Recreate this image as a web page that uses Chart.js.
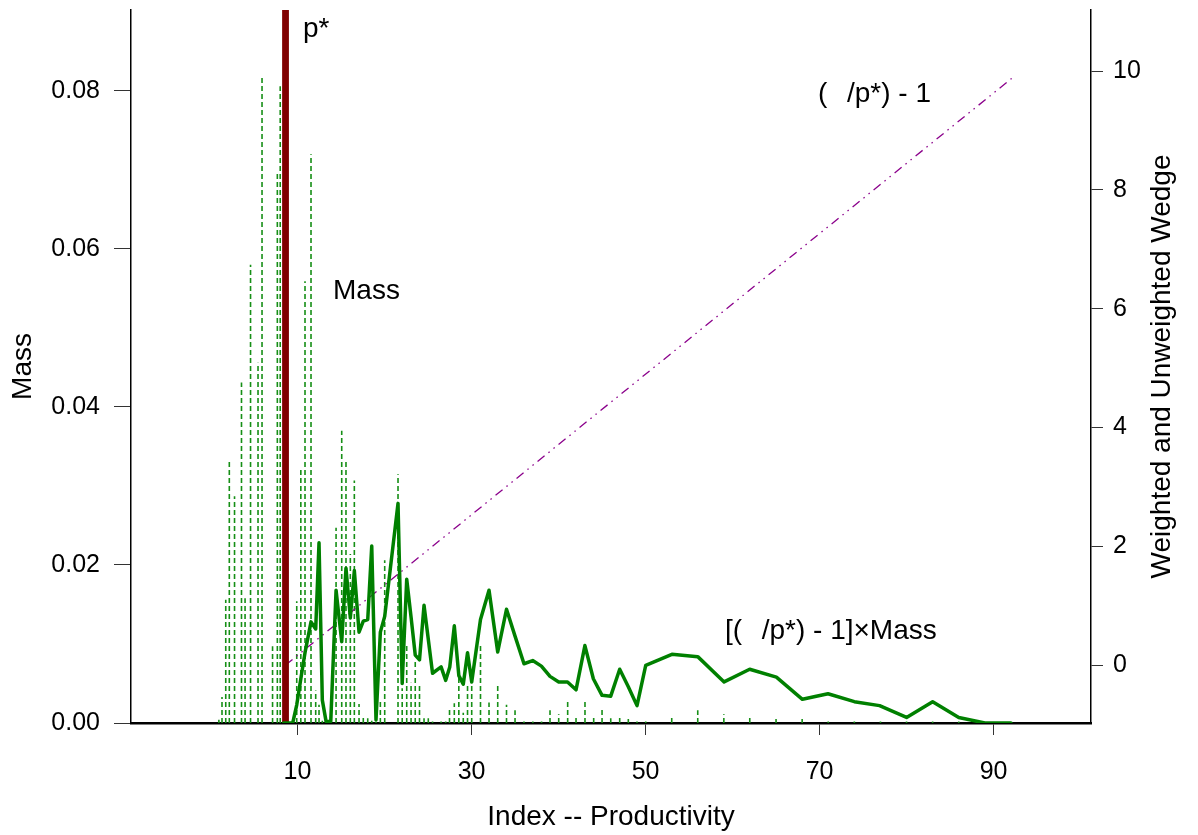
<!DOCTYPE html>
<html><head><meta charset="utf-8">
<script src="https://cdn.jsdelivr.net/npm/chart.js@4/dist/chart.umd.min.js"></script>
<style>html,body{margin:0;padding:0;background:#fff;}canvas{display:block;}</style>
</head><body>
<canvas id="c" width="1198" height="835"></canvas>
<script>
// ---- data ----
const massX = [0.96,1.32,1.75,2.16,2.76,3.56,3.97,4.60,5.46,5.92,7.13,7.68,8.01,8.56,9.91,10.38,10.86,11.55,12.09,12.47,12.85,13.28,13.82,14.43,15.08,15.57,16.07,16.53,17.07,17.56,18.07,18.53,19.02,19.52,20.02,21.55,22.03,22.55,23.05,23.53,24.02,24.54,25.03,25.52,26.5,27.03,27.47,28.02,28.54,29.05,29.54,30.02,31.03,32.01,33.01,34.02,35.0,36.03,37.05,38.05,39.02,40.02,41.05,42.01,43.04,44.04,45.0,46.0,47.03,48.02,49.02,50.02,53.01,56.0,59.0,61.98,65.0,68.0,71.0,74.0,77.0,80.0,83.0,86.0,89.0];
const massY = [0.0004,0.0033,0.0156,0.0332,0.0287,0.0431,0.0158,0.0580,0.0456,0.0820,0.0097,0.0696,0.0806,0.0103,0.0154,0.0322,0.0559,0.0720,0.0041,0.0023,0.0003,0.0002,0.0002,0.0247,0.0370,0.0332,0.0214,0.0307,0.0024,0.0009,0.0006,0.0003,0.0002,0.0027,0.0206,0.0315,0.0044,0.0100,0.0051,0.0080,0.0048,0.0006,0.0006,0.0002,0.0002,0.0002,0.0018,0.0025,0.0066,0.0013,0.0050,0.0052,0.0101,0.0026,0.0049,0.0023,0.0016,0.0002,0.0002,0.0002,0.0016,0.0011,0.0030,0.0007,0.0030,0.0008,0.0018,0.0006,0.0008,0.0005,0.0002,0.0002,0.0008,0.0016,0.0011,0.0007,0.0005,0.0005,0.0002,0.0002,0.0002,0.0002,0.0002,0.0002,0.0001];

const wedgeX = [8.4,8.56,9.45,9.91,10.38,10.86,11.55,12.09,12.47,12.85,13.28,13.82,14.43,15.08,15.57,16.07,16.53,17.07,17.56,18.07,18.53,19.02,19.52,20.02,21.55,22.03,22.55,23.05,23.53,24.02,24.54,25.52,26.5,27.03,27.5,28.02,28.54,29.05,29.54,30.02,31.03,32.01,33.01,34.02,35.0,36.03,37.03,38.03,39.02,40.02,41.03,42.01,43.03,44.0,45.0,46.0,47.03,48.02,49.02,50.02,53.03,56.0,59.03,61.97,65.04,68.03,70.97,74.0,76.9,80.0,83.0,86.0,89.0,92.0];
const wedgeY = [0,0,0,0.0023,0.0056,0.0089,0.0128,0.0119,0.0228,0.0029,0.0002,0.0002,0.0168,0.0103,0.0196,0.0133,0.0193,0.0115,0.0129,0.0131,0.0224,0.0004,0.0115,0.0135,0.0278,0.0050,0.0182,0.0134,0.0086,0.0080,0.0149,0.0063,0.0071,0.0054,0.0071,0.0123,0.0060,0.0049,0.0089,0.0052,0.0131,0.0168,0.0090,0.0144,0.0110,0.0075,0.0079,0.0072,0.0059,0.0052,0.0052,0.0042,0.0098,0.0056,0.0035,0.0034,0.0068,0.0046,0.0022,0.0073,0.0087,0.0084,0.0052,0.0068,0.0058,0.0030,0.0037,0.0027,0.0022,0.0007,0.0027,0.0007,0,0];

const ratioX = [8.62, 92.1];
const ratioY = [0.0, 9.88];
const pStar = 8.62;

const xTicks = [10,30,50,70,90];
const leftTicks = [0,0.02,0.04,0.06,0.08];
const rightTicks = [0,2,4,6,8,10];

// ---- build library data ----
const spikes = [];
massX.forEach((x,i)=>{ spikes.push({x:x,y:0},{x:x,y:massY[i]},{x:x,y:null}); });
const wedge = wedgeX.map((x,i)=>({x:x,y:wedgeY[i]}));
const ratio = ratioX.map((x,i)=>({x:x,y:ratioY[i]}));

const FONT = '"Liberation Sans", Arial, Helvetica, sans-serif';
const LEFT_MAX = 0.09025;

const annot = {
  id:'annot',
  afterDraw(chart){
    const ctx = chart.ctx;
    ctx.save();
    ctx.fillStyle = '#000';
    ctx.font = '28px ' + FONT;
    ctx.textBaseline = 'alphabetic';
    ctx.textAlign = 'left';
    ctx.fillText('p*', 303, 37);
    ctx.fillText('Mass', 333, 299);
    ctx.fillText('(\u2002\u2009/p*) - 1', 818, 102);
    ctx.fillText('[(\u2002\u2009/p*) - 1]\u00D7Mass', 725, 639);
    ctx.translate(1162, 366.5);
    ctx.rotate(-Math.PI/2);
    ctx.textAlign = 'center';
    ctx.textBaseline = 'middle';
    ctx.fillText('Weighted and Unweighted Wedge', 0, 0);
    ctx.restore();
  }
};

function noPadV(s){ s.paddingTop = 0; s.paddingBottom = 0; }
function noPadH(s){ s.paddingLeft = 0; s.paddingRight = 0; }

new Chart(document.getElementById('c'), {
  type: 'scatter',
  data: { datasets: [
    { label:'wedge', data: wedge, showLine:true, borderColor:'#008000', borderWidth:3.5, pointRadius:0, yAxisID:'y', order:0, borderJoinStyle:'round', borderCapStyle:'round' },
    { label:'pstar', data:[{x:pStar,y:0},{x:pStar,y:LEFT_MAX}], showLine:true, borderColor:'#800000', borderWidth:6.8, pointRadius:0, yAxisID:'y', order:1 },
    { label:'ratio', data: ratio, showLine:true, borderColor:'#8B008B', borderWidth:1.3, borderDash:[9,5,1.5,5,1.5,5], pointRadius:0, yAxisID:'y2', order:2 },
    { label:'mass', data: spikes, showLine:true, spanGaps:false, borderColor:'#168f16', borderWidth:1.6, borderDash:[5,3], pointRadius:0, yAxisID:'y', order:3 }
  ]},
  options: {
    responsive:false, animation:false, devicePixelRatio:1,
    layout:{ padding:{left:0,right:0,top:10,bottom:0} },
    plugins:{ legend:{display:false}, tooltip:{enabled:false} },
    scales:{
      x:{ type:'linear', position:'bottom', min:-9.14, max:101.2,
          afterBuildTicks(s){ s.ticks = xTicks.map(v=>({value:v})); },
          afterFit(s){ s.height = 112; noPadH(s); },
          grid:{ drawOnChartArea:false, drawTicks:true, tickLength:12, tickColor:'#333', tickWidth:1 },
          border:{ display:true, color:'#000', width:2.5 },
          ticks:{ color:'#000', font:{family:FONT,size:25}, padding:22, maxRotation:0, callback:v=>String(v) },
          title:{ display:true, text:'Index -- Productivity', color:'#000', font:{family:FONT,size:28}, padding:{top:0,bottom:1} } },
      y:{ type:'linear', position:'left', min:0, max:LEFT_MAX,
          afterBuildTicks(s){ s.ticks = leftTicks.map(v=>({value:v})); },
          afterFit(s){ s.width = 131; noPadV(s); },
          grid:{ drawOnChartArea:false, drawTicks:true, tickLength:17, tickColor:'#333', tickWidth:1 },
          border:{ display:true, color:'#000', width:1.5 },
          ticks:{ color:'#000', font:{family:FONT,size:25}, padding:14, callback:v=>v.toFixed(2) },
          title:{ display:true, text:'Mass', color:'#000', font:{family:FONT,size:28}, padding:{top:6,bottom:0} } },
      y2:{ type:'linear', position:'right', min:-0.976, max:11.03,
          afterBuildTicks(s){ s.ticks = rightTicks.map(v=>({value:v})); },
          afterFit(s){ s.width = 107; noPadV(s); },
          grid:{ drawOnChartArea:false, drawTicks:true, tickLength:12, tickColor:'#333', tickWidth:1 },
          border:{ display:true, color:'#000', width:1.5 },
          ticks:{ color:'#000', font:{family:FONT,size:25}, padding:10, callback:v=>String(v) },
          title:{ display:false } }
    }
  },
  plugins:[annot]
});
</script>
</body></html>
